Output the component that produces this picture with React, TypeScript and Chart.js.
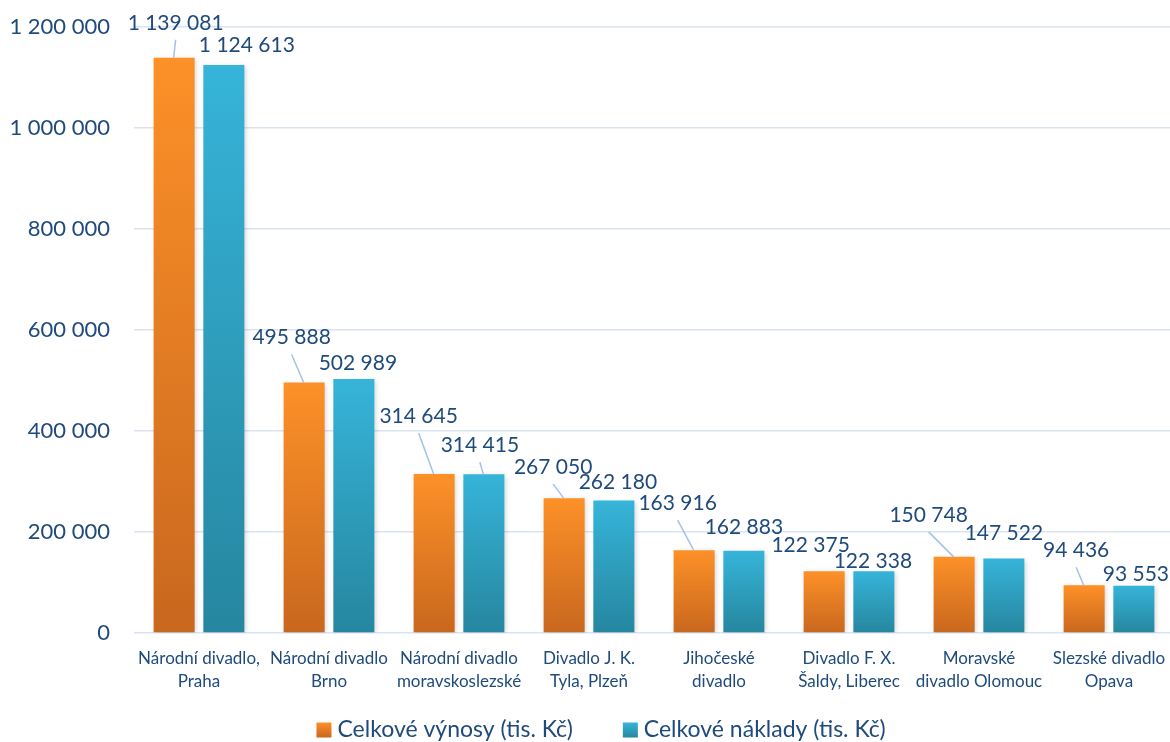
import React, { useEffect, useRef } from 'react';
import { Chart, registerables } from 'chart.js';

Chart.register(...registerables);

const categories: string[][] = [
  ['Národní divadlo,', 'Praha'],
  ['Národní divadlo', 'Brno'],
  ['Národní divadlo', 'moravskoslezské'],
  ['Divadlo J. K.', 'Tyla, Plzeň'],
  ['Jihočeské', 'divadlo'],
  ['Divadlo F. X.', 'Šaldy, Liberec'],
  ['Moravské', 'divadlo Olomouc'],
  ['Slezské divadlo', 'Opava'],
];

const revenues = [1139081, 495888, 314645, 267050, 163916, 122375, 150748, 94436];
const costs = [1124613, 502989, 314415, 262180, 162883, 122338, 147522, 93553];

const seriesNames = ['Celkové výnosy (tis. Kč)', 'Celkové náklady (tis. Kč)'];

const yMin = 0;
const yMax = 1200000;
const yStep = 200000;

// Label placement (offset of label centre from the bar's top-centre, px)
const revenueLabelOffsets: number[][] = [
  [1.5, -35], [-12.5, -45], [-15.5, -58], [-11, -31], [-16.5, -47], [-13.5, -26], [-25.5, -42], [-8, -35],
];
const costLabelOffsets: number[][] = [
  [23, -20], [4, -16], [-4, -29], [4, -18], [0, -24], [-1, -10], [0, -25], [2, -12],
];

const TEXT = '#1F4A7C';
const FONT = 'Lato, "Open Sans", sans-serif';
const GRID = '#D9E3F1';
const LEADER = '#A3C1E6';

const palettes = [
  { top: '#FD9128', bottom: '#C8671E' },
  { top: '#36B4D9', bottom: '#26869F' },
];

const CANVAS_W = 1174;
const VIEW_W = 1170;
const VIEW_H = 742;

function fmt(v: number): string {
  return String(v).replace(/\B(?=(\d{3})+(?!\d))/g, ' ');
}

function barFill(pal: { top: string; bottom: string }) {
  return (ctx: any) => {
    const chart = ctx.chart;
    const area = chart.chartArea;
    if (!area || ctx.type !== 'data' || !chart.scales.y) return pal.top;
    const ys = chart.scales.y;
    const top = ys.getPixelForValue(ctx.raw);
    const base = ys.getPixelForValue(0);
    if (!isFinite(top) || !isFinite(base) || top === base) return pal.top;
    const g = chart.ctx.createLinearGradient(0, top, 0, base);
    g.addColorStop(0, pal.top);
    g.addColorStop(1, pal.bottom);
    return g;
  };
}

const decorPlugin = {
  id: 'decor',
  beforeDatasetsDraw(chart: any) {
    const c = chart.ctx;
    c.save();
    c.shadowColor = 'rgba(0,0,0,0.18)';
    c.shadowBlur = 5;
    c.shadowOffsetX = 1.5;
    c.shadowOffsetY = 1;
  },
  afterDatasetsDraw(chart: any) {
    const c = chart.ctx;
    c.restore();
    const offsets = [revenueLabelOffsets, costLabelOffsets];
    c.save();
    chart.data.datasets.forEach((ds: any, di: number) => {
      const meta = chart.getDatasetMeta(di);
      meta.data.forEach((el: any, i: number) => {
        const [dx, dy] = offsets[di][i];
        const lx = el.x + dx;
        const ly = el.y + dy;
        if (dy < -27) {
          c.beginPath();
          c.strokeStyle = LEADER;
          c.lineWidth = 1.5;
          c.moveTo(lx, ly + 17);
          c.lineTo(el.x - 0.5, el.y);
          c.stroke();
        }
        c.fillStyle = TEXT;
        c.font = `21px ${FONT}`;
        c.textAlign = 'center';
        c.textBaseline = 'middle';
        c.fillText(fmt(ds.data[i]), lx, ly);
      });
    });
    c.restore();
  },
  afterDraw(chart: any) {
    const c = chart.ctx;
    c.save();
    c.font = `23px ${FONT}`;
    const box = 15;
    const gapBox = 6;
    const gapItems = 50;
    const widths = seriesNames.map((n) => c.measureText(n).width);
    const total =
      widths.reduce((a, w) => a + box + gapBox + w, 0) + gapItems * (seriesNames.length - 1);
    let x = VIEW_W / 2 + 16 - total / 2;
    const cy = 730;
    seriesNames.forEach((name, i) => {
      const pal = palettes[i];
      const g = c.createLinearGradient(0, cy - box / 2, 0, cy + box / 2);
      g.addColorStop(0, pal.top);
      g.addColorStop(1, pal.bottom);
      c.fillStyle = g;
      c.fillRect(x, cy - box / 2, box, box);
      x += box + gapBox;
      c.fillStyle = TEXT;
      c.textAlign = 'left';
      c.textBaseline = 'middle';
      c.fillText(name, x, cy);
      x += widths[i] + gapItems;
    });
    c.restore();
  },
};

export default function App() {
  const canvasRef = useRef<HTMLCanvasElement | null>(null);

  useEffect(() => {
    document.body.style.margin = '0';
    document.body.style.overflow = 'hidden';
    const canvas = canvasRef.current;
    if (!canvas) return;
    const chart = new Chart(canvas, {
      type: 'bar',
      data: {
        labels: categories as any,
        datasets: [
          {
            label: seriesNames[0],
            data: revenues,
            backgroundColor: barFill(palettes[0]) as any,
            borderWidth: 0,
            barPercentage: 0.825,
            categoryPercentage: 0.765,
          },
          {
            label: seriesNames[1],
            data: costs,
            backgroundColor: barFill(palettes[1]) as any,
            borderWidth: 0,
            barPercentage: 0.825,
            categoryPercentage: 0.765,
          },
        ],
      },
      options: {
        responsive: false,
        animation: false,
        devicePixelRatio: 1,
        layout: { padding: { top: 27, right: 0, bottom: 40, left: 0 } },
        plugins: {
          legend: { display: false },
          tooltip: { enabled: false },
        },
        scales: {
          x: {
            grid: { display: false },
            border: { display: false },
            ticks: {
              color: TEXT,
              font: { family: FONT, size: 17, lineHeight: 1.36 },
              padding: 6,
              maxRotation: 0,
              autoSkip: false,
            },
            afterFit(scale: any) {
              scale.height = 69;
              scale.paddingLeft = 0;
              scale.paddingRight = 0;
            },
          },
          y: {
            min: yMin,
            max: yMax,
            grid: { color: GRID, lineWidth: 1.5, drawTicks: false },
            border: { display: false },
            ticks: {
              stepSize: yStep,
              padding: 24,
              color: TEXT,
              font: { family: FONT, size: 22 },
              callback: (v: any) => fmt(Number(v)),
            },
            afterFit(scale: any) {
              scale.width = 134;
              scale.paddingTop = 0;
              scale.paddingBottom = 0;
            },
          },
        },
      },
      plugins: [decorPlugin],
    });
    return () => chart.destroy();
  }, []);

  return (
    <div
      style={{
        position: 'absolute',
        left: 0,
        top: 0,
        width: VIEW_W,
        height: VIEW_H,
        overflow: 'hidden',
      }}
    >
      <canvas ref={canvasRef} width={CANVAS_W} height={VIEW_H} style={{ display: 'block' }} />
    </div>
  );
}
